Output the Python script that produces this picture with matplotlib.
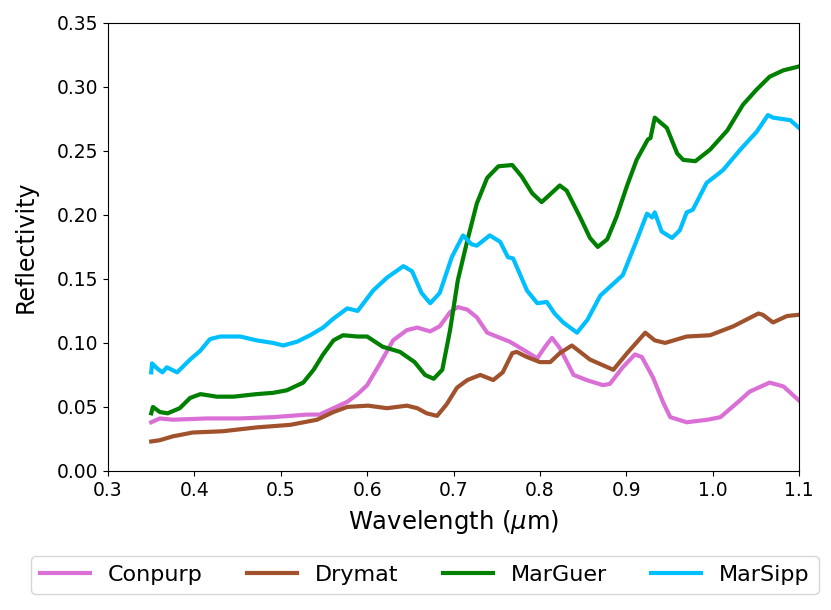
import matplotlib

matplotlib.use("Agg")
import matplotlib.pyplot as plt
from matplotlib.ticker import FormatStrFormatter

# values
conpurp_wl = [0.350, 0.360, 0.375, 0.415, 0.453, 0.491, 0.530, 0.545, 0.561, 0.577,
              0.589, 0.600, 0.615, 0.630, 0.646, 0.658, 0.673, 0.684, 0.696, 0.705,
              0.716, 0.727, 0.739, 0.750, 0.765, 0.780, 0.797, 0.806, 0.814, 0.823,
              0.839, 0.854, 0.873, 0.881, 0.896, 0.910, 0.918, 0.931, 0.943, 0.951,
              0.970, 0.994, 1.009, 1.028, 1.043, 1.066, 1.082, 1.100]
conpurp_refl = [0.038, 0.041, 0.040, 0.041, 0.041, 0.042, 0.044, 0.044, 0.049, 0.054,
                0.060, 0.067, 0.084, 0.102, 0.110, 0.112, 0.109, 0.113, 0.124, 0.128,
                0.126, 0.120, 0.108, 0.105, 0.101, 0.095, 0.088, 0.097, 0.104, 0.096,
                0.075, 0.071, 0.067, 0.068, 0.081, 0.091, 0.089, 0.073, 0.053, 0.042,
                0.038, 0.040, 0.042, 0.053, 0.062, 0.069, 0.066, 0.055]

drymat_wl = [0.350, 0.360, 0.375, 0.398, 0.433, 0.472, 0.511, 0.542, 0.561, 0.577,
             0.601, 0.623, 0.646, 0.658, 0.669, 0.681, 0.692, 0.704, 0.716, 0.731,
             0.746, 0.757, 0.768, 0.773, 0.785, 0.800, 0.812, 0.823, 0.837, 0.858,
             0.885, 0.901, 0.922, 0.933, 0.945, 0.970, 0.997, 1.024, 1.053, 1.058,
             1.070, 1.086, 1.100]
drymat_refl = [0.023, 0.024, 0.027, 0.030, 0.031, 0.034, 0.036, 0.040, 0.046, 0.050,
               0.051, 0.049, 0.051, 0.049, 0.045, 0.043, 0.052, 0.065, 0.071, 0.075,
               0.071, 0.077, 0.092, 0.093, 0.089, 0.085, 0.085, 0.092, 0.098, 0.087,
               0.079, 0.092, 0.108, 0.102, 0.100, 0.105, 0.106, 0.113, 0.123, 0.122,
               0.116, 0.121, 0.122]

marguer_wl = [0.350, 0.352, 0.360, 0.369, 0.383, 0.395, 0.407, 0.426, 0.445, 0.472,
              0.491, 0.507, 0.526, 0.538, 0.549, 0.561, 0.572, 0.589, 0.600, 0.618,
              0.638, 0.655, 0.667, 0.677, 0.687, 0.696, 0.705, 0.716, 0.727, 0.739,
              0.752, 0.768, 0.779, 0.791, 0.802, 0.815, 0.823, 0.831, 0.846, 0.858,
              0.867, 0.878, 0.889, 0.901, 0.912, 0.925, 0.928, 0.933, 0.947, 0.959,
              0.966, 0.980, 0.997, 1.017, 1.035, 1.051, 1.066, 1.082, 1.100]
marguer_refl = [0.045, 0.050, 0.046, 0.045, 0.049, 0.057, 0.060, 0.058, 0.058, 0.060,
                0.061, 0.063, 0.069, 0.079, 0.091, 0.102, 0.106, 0.105, 0.105, 0.097,
                0.093, 0.085, 0.075, 0.072, 0.079, 0.110, 0.149, 0.180, 0.209, 0.229,
                0.238, 0.239, 0.230, 0.217, 0.210, 0.218, 0.223, 0.219, 0.199, 0.182,
                0.175, 0.181, 0.199, 0.223, 0.243, 0.259, 0.260, 0.276, 0.268, 0.248,
                0.243, 0.242, 0.251, 0.266, 0.286, 0.298, 0.308, 0.313, 0.316]

marsipp_wl = [0.350, 0.351, 0.357, 0.363, 0.368, 0.380, 0.395, 0.407, 0.418, 0.430,
              0.453, 0.472, 0.491, 0.503, 0.519, 0.534, 0.549, 0.561, 0.577, 0.589,
              0.607, 0.623, 0.642, 0.652, 0.663, 0.673, 0.684, 0.698, 0.711, 0.721,
              0.727, 0.742, 0.754, 0.763, 0.769, 0.785, 0.797, 0.808, 0.817, 0.827,
              0.843, 0.855, 0.870, 0.896, 0.912, 0.924, 0.930, 0.933, 0.941, 0.953,
              0.962, 0.970, 0.977, 0.993, 1.012, 1.032, 1.051, 1.064, 1.070, 1.090,
              1.100]
marsipp_refl = [0.077, 0.084, 0.080, 0.077, 0.081, 0.077, 0.087, 0.094, 0.103, 0.105,
                0.105, 0.102, 0.100, 0.098, 0.101, 0.106, 0.112, 0.119, 0.127, 0.125,
                0.141, 0.151, 0.160, 0.156, 0.139, 0.131, 0.139, 0.167, 0.184, 0.177,
                0.176, 0.184, 0.179, 0.167, 0.166, 0.141, 0.131, 0.132, 0.123, 0.116,
                0.108, 0.118, 0.137, 0.153, 0.180, 0.201, 0.198, 0.202, 0.187, 0.182,
                0.188, 0.202, 0.204, 0.225, 0.235, 0.251, 0.265, 0.278, 0.276, 0.274,
                0.268]

series = [
    ("Conpurp", conpurp_wl, conpurp_refl, "orchid"),
    ("Drymat", drymat_wl, drymat_refl, "sienna"),
    ("MarGuer", marguer_wl, marguer_refl, "green"),
    ("MarSipp", marsipp_wl, marsipp_refl, "deepskyblue"),
]

x_ticks = [0.3, 0.4, 0.5, 0.6, 0.7, 0.8, 0.9, 1.0, 1.1]
y_ticks = [0.00, 0.05, 0.10, 0.15, 0.20, 0.25, 0.30, 0.35]

fig = plt.figure(figsize=(8.31, 6.10), dpi=100)
ax = fig.add_axes([0.130, 0.228, 0.8315, 0.7344])

for name, wl, refl, color in series:
    ax.plot(wl, refl, color=color, linewidth=3, label=name)

ax.set_xlim(0.3, 1.1)
ax.set_ylim(0.0, 0.35)
ax.set_xticks(x_ticks)
ax.set_yticks(y_ticks)
ax.yaxis.set_major_formatter(FormatStrFormatter("%.2f"))
ax.tick_params(labelsize=13.5)
ax.set_xlabel(r"Wavelength ($\mu$m)", fontsize=17.5, labelpad=6)
ax.set_ylabel("Reflectivity", fontsize=17, labelpad=14)

fig.legend(
    loc="center",
    bbox_to_anchor=(0.5114, 0.0574),
    ncol=4,
    fontsize=16,
    handlelength=2.25,
)

fig.savefig("out.png", dpi=100)
plt.close(fig)
